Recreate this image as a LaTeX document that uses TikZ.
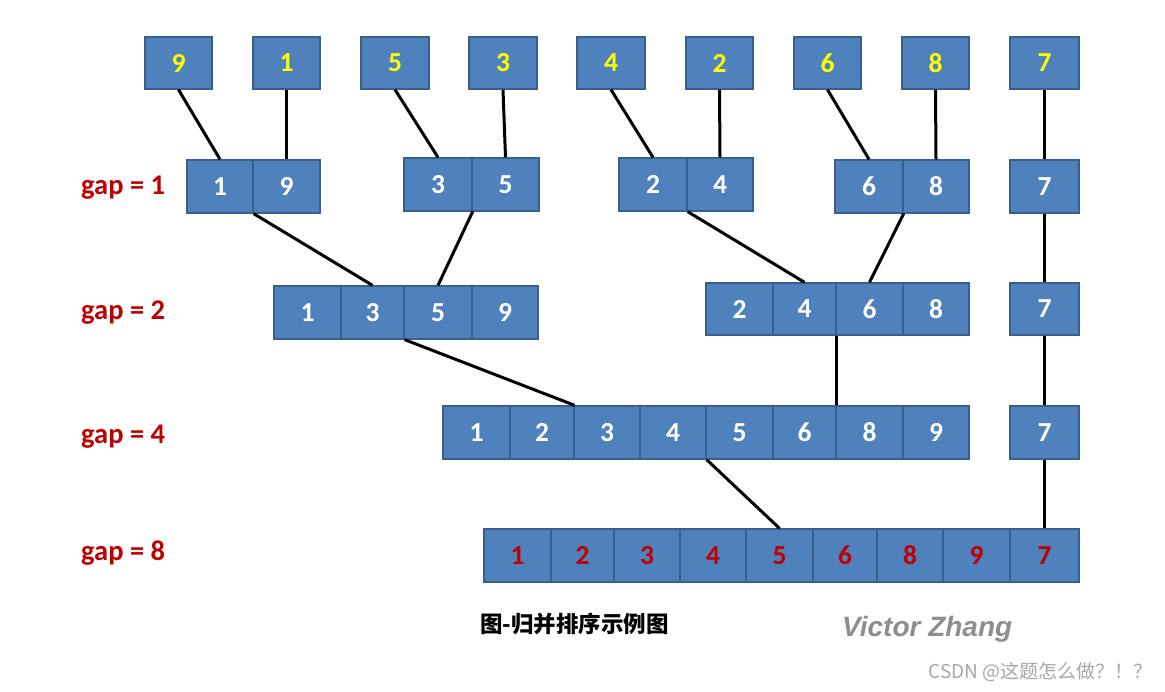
\documentclass[tikz,border=0pt]{standalone}
\usepackage{fontspec}
\setmainfont{Carlito}
\newfontfamily\cjkfont{Noto Sans CJK SC}
\newfontfamily\vzfont{Liberation Sans}
\definecolor{boxfill}{HTML}{4F81BD}
\definecolor{boxline}{HTML}{3A5F8B}
\definecolor{darkred}{HTML}{C00000}
\definecolor{yel}{HTML}{FFFF00}
\definecolor{wm}{HTML}{A6A6A6}
\definecolor{vzgray}{HTML}{8E8E8E}
\newcommand\mycell[7]{\node[#7, minimum width={(#3-#2)*1pt}, minimum height={(#5-#4)*1pt}] (#1) at ({(#2+#3)/2},{(#4+#5)/2}) {#6};}
\tikzset{
  cellbox/.style={rectangle, draw=boxline, fill=boxfill, line width=1.3pt, inner sep=0pt,
    font=\fontsize{27.5}{30}\selectfont\bfseries},
  topcell/.style={cellbox, text=yel},
  midcell/.style={cellbox, text=white},
  endcell/.style={cellbox, text=darkred},
  link/.style={line width=3pt, black},
  gaplabel/.style={anchor=base west, inner sep=0pt, text=darkred, font=\fontsize{28.5}{30}\selectfont\bfseries}
}
\begin{document}
\begin{tikzpicture}[x=1pt,y=-1pt]
\useasboundingbox (0,0) rectangle (1165,692);
% top row
\mycell{t9}{145}{212}{37}{89}{9}{topcell}
\mycell{t1}{253}{320}{37}{89}{1}{topcell}
\mycell{t5}{361}{429}{37}{89}{5}{topcell}
\mycell{t3}{469}{537}{37}{89}{3}{topcell}
\mycell{t4}{577}{645}{37}{89}{4}{topcell}
\mycell{t2}{686}{753}{37}{89}{2}{topcell}
\mycell{t6}{794}{861}{37}{89}{6}{topcell}
\mycell{t8}{902}{969}{37}{89}{8}{topcell}
\mycell{t7}{1010}{1079}{37}{89}{7}{topcell}
% gap = 1
\mycell{a1}{187}{253}{160}{213}{1}{midcell}
\mycell{a9}{253}{320}{160}{213}{9}{midcell}
\mycell{b3}{404}{472}{158}{211}{3}{midcell}
\mycell{b5}{472}{539}{158}{211}{5}{midcell}
\mycell{c2}{619}{687}{158}{211}{2}{midcell}
\mycell{c4}{687}{753}{158}{211}{4}{midcell}
\mycell{d6}{835}{903}{160}{213}{6}{midcell}
\mycell{d8}{903}{969}{160}{213}{8}{midcell}
\mycell{e7}{1010}{1079}{160}{213}{7}{midcell}
% gap = 2
\mycell{f1}{274}{341}{286}{339}{1}{midcell}
\mycell{f3}{341}{404}{286}{339}{3}{midcell}
\mycell{f5}{404}{472}{286}{339}{5}{midcell}
\mycell{f9}{472}{538}{286}{339}{9}{midcell}
\mycell{g2}{706}{773}{283}{335}{2}{midcell}
\mycell{g4}{773}{836}{283}{335}{4}{midcell}
\mycell{g6}{836}{903}{283}{335}{6}{midcell}
\mycell{g8}{903}{969}{283}{335}{8}{midcell}
\mycell{h7}{1010}{1079}{283}{335}{7}{midcell}
% gap = 4
\mycell{k1}{443}{510}{406}{459}{1}{midcell}
\mycell{k2}{510}{574}{406}{459}{2}{midcell}
\mycell{k3}{574}{640}{406}{459}{3}{midcell}
\mycell{k4}{640}{706}{406}{459}{4}{midcell}
\mycell{k5}{706}{773}{406}{459}{5}{midcell}
\mycell{k6}{773}{836}{406}{459}{6}{midcell}
\mycell{k8}{836}{903}{406}{459}{8}{midcell}
\mycell{k9}{903}{969}{406}{459}{9}{midcell}
\mycell{m7}{1010}{1079}{406}{459}{7}{midcell}
% gap = 8
\mycell{n1}{484}{551}{529}{582}{1}{endcell}
\mycell{n2}{551}{614}{529}{582}{2}{endcell}
\mycell{n3}{614}{680}{529}{582}{3}{endcell}
\mycell{n4}{680}{746}{529}{582}{4}{endcell}
\mycell{n5}{746}{813}{529}{582}{5}{endcell}
\mycell{n6}{813}{877}{529}{582}{6}{endcell}
\mycell{n8}{877}{943}{529}{582}{8}{endcell}
\mycell{n9}{943}{1010}{529}{582}{9}{endcell}
\mycell{n7}{1010}{1079}{529}{582}{7}{endcell}
% connectors
\draw[link] (t9.south) -- (a1.north);
\draw[link] (t1.south) -- (a9.north);
\draw[link] (t5.south) -- (b3.north);
\draw[link] (t3.south) -- (b5.north);
\draw[link] (t4.south) -- (c2.north);
\draw[link] (t2.south) -- (c4.north);
\draw[link] (t6.south) -- (d6.north);
\draw[link] (t8.south) -- (d8.north);
\draw[link] (t7.south) -- (e7.north);
\draw[link] (a1.south east) -- (f3.north);
\draw[link] (b3.south east) -- (f5.north);
\draw[link] (c2.south east) -- (g4.north);
\draw[link] (d6.south east) -- (g6.north);
\draw[link] (e7.south) -- (h7.north);
\draw[link] (f3.south east) -- (k2.north east);
\draw[link] (g4.south east) -- (k6.north east);
\draw[link] (h7.south) -- (m7.north);
\draw[link] (k4.south east) -- (n5.north);
\draw[link] (m7.south) -- (n7.north);
% labels
\node[gaplabel] (l1) at (81,195) {gap = 1};
\node[gaplabel] (l2) at (81,320) {gap = 2};
\node[gaplabel] (l4) at (81,444) {gap = 4};
\node[gaplabel] (l8) at (81,560) {gap = 8};
% caption
\node[anchor=base west, inner sep=0pt, font=\cjkfont\bfseries\fontsize{22.5}{26}\selectfont] (cap) at (480,632) {图-归并排序示例图};
\node[anchor=base west, inner sep=0pt, text=white, font=\vzfont\bfseries\itshape\fontsize{28}{30}\selectfont] (vzs) at (843.8,637.8) {Victor Zhang};
\node[anchor=base west, inner sep=0pt, text=vzgray, font=\vzfont\bfseries\itshape\fontsize{28}{30}\selectfont] (vz) at (842,636) {Victor Zhang};
\node[anchor=base east, inner sep=0pt, text=wm, font=\cjkfont\fontsize{19}{22}\selectfont] (wmk) at (1153,678) {CSDN @这题怎么做？！？};
\end{tikzpicture}
\end{document}
